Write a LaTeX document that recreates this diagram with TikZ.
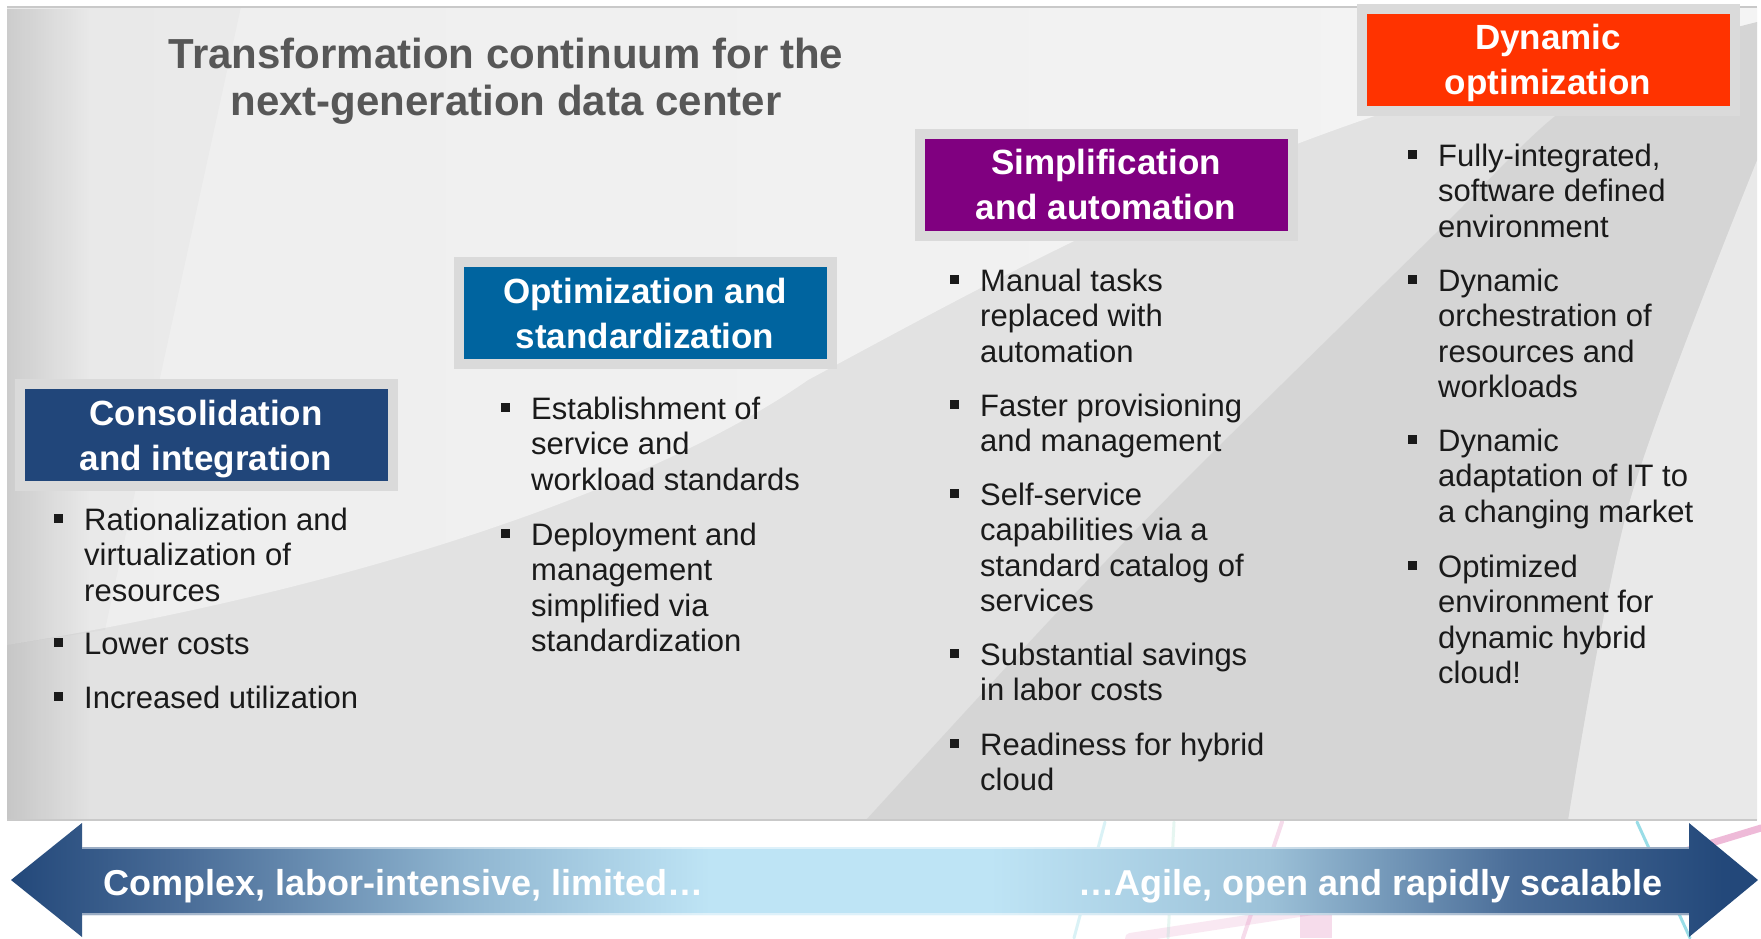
\documentclass[tikz,border=0pt]{standalone}
\usepackage{fontspec}
\setmainfont{Liberation Sans}
\usetikzlibrary{fadings}
\definecolor{bgmid}{HTML}{E2E2E2}
\definecolor{bglightL}{HTML}{EEEEEE}
\definecolor{bglightM}{HTML}{FBFBFB}
\definecolor{bglightR}{HTML}{F4F4F4}
\definecolor{bgdark}{HTML}{D5D5D5}
\definecolor{bgright}{HTML}{E9E9E9}
\definecolor{bordergray}{HTML}{C9C9C9}
\definecolor{framegray}{HTML}{DADADA}
\definecolor{cblue}{HTML}{21467A}
\definecolor{oblue}{HTML}{00649F}
\definecolor{spurple}{HTML}{800080}
\definecolor{dred}{HTML}{FF3300}
\definecolor{titlegray}{HTML}{575757}
\definecolor{bodytext}{HTML}{1A1A1A}
\definecolor{arrA}{HTML}{23487A}
\definecolor{arrB}{HTML}{4A6D98}
\definecolor{arrC}{HTML}{8FB5D0}
\definecolor{arrD}{HTML}{BEE4F5}
\definecolor{arrE}{HTML}{9CC1D8}
\definecolor{photocyan}{HTML}{6FCFDD}
\definecolor{photopink}{HTML}{E48CBE}
\definecolor{photogreen}{HTML}{9FDCCB}
\pgfdeclarehorizontalshading{arrsh}{100bp}{color(0bp)=(arrA); color(25bp)=(arrA); color(30bp)=(arrB); color(38bp)=(arrC); color(45bp)=(arrD); color(53bp)=(arrD); color(61bp)=(arrE); color(68bp)=(arrB); color(74bp)=(arrA); color(100bp)=(arrA)}
\tikzfading[name=fadeleft, left color=transparent!0, right color=transparent!100]
\newcommand\hfont{\fontsize{35}{45}\selectfont\bfseries}
\newcommand\bodyfont{\fontsize{31}{35.5}\selectfont}
\newcommand\htab[1]{\begin{tabular}[t]{@{}c@{}}#1\end{tabular}}
\newcommand\bitem[1]{\rule[7pt]{9pt}{9pt}\hspace{21pt}\begin{tabular}[t]{@{}l@{}}#1\end{tabular}}
\begin{document}
\begin{tikzpicture}[x=1pt,y=-1pt,
  hbox/.style={minimum width=363pt, minimum height=92pt, inner sep=0pt,
    preaction={draw=framegray, line width=20pt}},
  htext/.style={anchor=base, inner sep=0pt, text=white, font=\hfont},
  itm/.style={anchor=base west, inner sep=0pt, text=bodytext, font=\bodyfont},
  arrtext/.style={inner sep=0pt, text=white, font=\fontsize{36}{40}\selectfont\bfseries}]
\useasboundingbox (0,0) rectangle (1761,938);
\fill[white] (0,0) rectangle (1761,938);
% faint background photo below the panel
\begin{scope}[line cap=round]
\draw[photocyan, line width=3pt, opacity=.7] (1637,822) -- (1690,938);
\draw[photopink, line width=7pt, opacity=.6] (1672,855) -- (1761,828);
\draw[photopink, line width=10pt, opacity=.2] (1130,938) -- (1345,905);
\draw[photopink, line width=4pt, opacity=.3] (1282,822) -- (1243,938);
\draw[photocyan, line width=3pt, opacity=.25] (1105,822) -- (1074,938);
\draw[photogreen, line width=3pt, opacity=.25] (1174,822) -- (1168,938);
\fill[photopink, opacity=.3] (1300,912) rectangle (1332,938);
\end{scope}
% panel background
\fill[bgmid] (7,7) rectangle (1757,820);
\fill[bgright] plot[smooth] coordinates {(1568,820) (1630,500) (1757,160)} -- (1757,820) -- cycle;
\shade[left color=bglightL, middle color=bglightM, right color=bglightR]
  (7,7) -- (1757,7) -- (1757,26) .. controls (1350,80) and (1050,250) .. (808,380)
  .. controls (650,490) and (350,590) .. (7,645) -- cycle;
\fill[bgdark] plot[smooth] coordinates {(866,820) (1050,620) (1195,470) (1436,233) (1554,117) (1660,52) (1757,22)}
  -- plot[smooth] coordinates {(1757,160) (1630,500) (1568,820)} -- cycle;
\fill[black, opacity=.02] (7,7) -- (241,7) -- (105,630) -- (7,645) -- cycle;
\fill[black, opacity=.12, path fading=fadeleft] (7,7) rectangle (90,820);
\draw[bordergray, line width=1.5pt] (7,7) -- (1757,7);
\draw[bordergray, line width=1.5pt] (7,820) -- (1757,820);
% title
\node[anchor=base, inner sep=0pt, text=titlegray, font=\fontsize{42}{47}\selectfont\bfseries] (title) at (506,68)
  {\htab{Transformation continuum for the\\next-generation data center}};
% heading boxes
\node[hbox, fill=cblue] (b1) at (206,435) {};
\node[htext] (t1) at ([yshift=10pt]b1.center) {\htab{Consolidation\\and integration}};
\node[hbox, fill=oblue] (b2) at (645,313) {};
\node[htext] (t2) at ([yshift=10pt]b2.center) {\htab{Optimization and\\standardization}};
\node[hbox, fill=spurple] (b3) at (1106,184.5) {};
\node[htext] (t3) at ([yshift=10pt]b3.center) {\htab{Simplification\\and automation}};
\node[hbox, fill=dred] (b4) at (1548,59.5) {};
\node[htext] (t4) at ([yshift=10pt]b4.center) {\htab{Dynamic\\optimization}};
% column 1
\node[itm] (c1a) at (54,530) {\bitem{Rationalization and\\virtualization of\\resources}};
\node[itm] (c1b) at (54,654) {\bitem{Lower costs}};
\node[itm] (c1c) at (54,708) {\bitem{Increased utilization}};
% column 2
\node[itm] (c2a) at (501,419) {\bitem{Establishment of\\service and\\workload standards}};
\node[itm] (c2b) at (501,545) {\bitem{Deployment and\\management\\simplified via\\standardization}};
% column 3
\node[itm] (c3a) at (950,291) {\bitem{Manual tasks\\replaced with\\automation}};
\node[itm] (c3b) at (950,416) {\bitem{Faster provisioning\\and management}};
\node[itm] (c3c) at (950,505) {\bitem{Self-service\\capabilities via a\\standard catalog of\\services}};
\node[itm] (c3d) at (950,665) {\bitem{Substantial savings\\in labor costs}};
\node[itm] (c3e) at (950,755) {\bitem{Readiness for hybrid\\cloud}};
% column 4
\node[itm] (c4a) at (1408,166) {\bitem{Fully-integrated,\\software defined\\environment}};
\node[itm] (c4b) at (1408,291) {\bitem{Dynamic\\orchestration of\\resources and\\workloads}};
\node[itm] (c4c) at (1408,451) {\bitem{Dynamic\\adaptation of IT to\\a changing market}};
\node[itm] (c4d) at (1408,577) {\bitem{Optimized\\environment for\\dynamic hybrid\\cloud!}};
% double arrow
\shade[shading=arrsh] (11,880) -- (82,823) -- (82,847) -- (1689,847) -- (1689,823) -- (1758,880)
  -- (1689,937) -- (1689,915) -- (82,915) -- (82,937) -- cycle;
\draw[white, opacity=.5, line width=1.5pt] (82,848) -- (1689,848);
\draw[white, opacity=.5, line width=1.5pt] (82,914) -- (1689,914);
\node[arrtext, anchor=base west] (al) at (103,895) {Complex, labor-intensive, limited…};
\node[arrtext, anchor=base east] (ar) at (1663,895) {…Agile, open and rapidly scalable};
\end{tikzpicture}
\end{document}
